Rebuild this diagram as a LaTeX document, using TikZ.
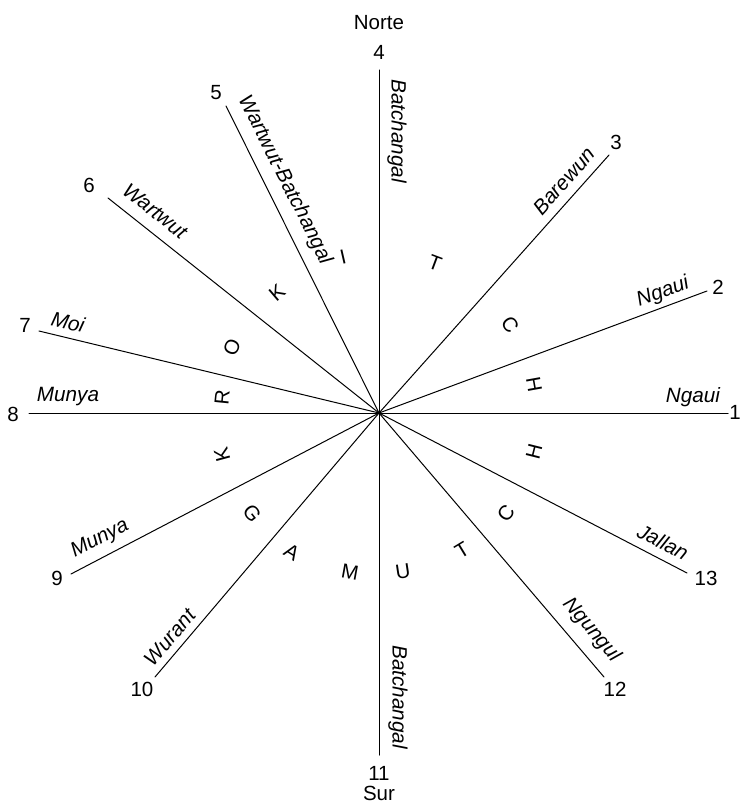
\documentclass[tikz,border=0pt]{standalone}
\usepackage{fontspec}
\setmainfont{Liberation Sans}
\begin{document}
\begin{tikzpicture}[x=1pt,y=-1pt,
  ray/.style={line width=1pt, line cap=round},
  num/.style={font=\fontsize{20.5}{24}\selectfont, inner sep=0pt},
  lab/.style={font=\fontsize{20.7}{24}\selectfont\itshape, inner sep=0pt},
  moi/.style={font=\fontsize{20.5}{24}\selectfont, inner sep=0pt}]
\useasboundingbox (0,0) rectangle (741,805);
% centre and ray ends
\coordinate (c) at (379,413);
\coordinate (e1) at (728,413);
\coordinate (e2) at (707,291);
\coordinate (e3) at (609,155);
\coordinate (e4) at (379,70);
\coordinate (e5) at (226,106);
\coordinate (e6) at (108,198);
\coordinate (e7) at (39,331);
\coordinate (e8) at (29,413);
\coordinate (e9) at (71,574);
\coordinate (e10) at (155,677);
\coordinate (e11) at (379,755);
\coordinate (e12) at (604,677);
\coordinate (e13) at (687,573);
\foreach \i in {1,...,13} \draw[ray] (c) -- (e\i);
% numbers
\node[num] (n1) at (735,412) {1};
\node[num] (n2) at (718,287) {2};
\node[num] (n3) at (616,142) {3};
\node[num] (n4) at (379,52) {4};
\node[num] (n5) at (216,93) {5};
\node[num] (n6) at (89,185) {6};
\node[num] (n7) at (25,325) {7};
\node[num] (n8) at (13,414) {8};
\node[num] (n9) at (57,578) {9};
\node[num] (n10) at (142,689) {10};
\node[num] (n11) at (379,773) {11};
\node[num] (n12) at (615,689) {12};
\node[num] (n13) at (706,578) {13};
\node[num] (norte) at (379,23) {Norte};
\node[num] (sur) at (379,793) {Sur};
% line labels
\node[lab, rotate=-90] (l4) at (397,131) {Batchangal};
\node[lab, rotate=-63.4] (l5) at (285,180) {Wartwut-Batchangal};
\node[lab, rotate=-38.3] (l6) at (155,211) {Wartwut};
\node[lab, rotate=-13.4] (l7) at (68,322) {Moi};
\node[lab] (l8) at (68,397) {Munya};
\node[lab, rotate=27.7] (l9) at (100,539) {Munya};
\node[lab, rotate=49.8] (l10) at (170,637) {Wurant};
\node[lab, rotate=-90] (l11) at (398,697) {Batchangal};
\node[lab, rotate=-49.7] (l12) at (592,630) {Ngungul};
\node[lab, rotate=-27.6] (l13) at (663,542) {Jallan};
\node[lab] (l1) at (693,397) {Ngaui};
\node[lab, rotate=20.2] (l2) at (663,292) {Ngaui};
\node[lab, rotate=48.2] (l3) at (564,181) {Barewun};
% moiety letters: KROKITCH
\node[moi, rotate=105] (k1) at (222,455) {K};
\node[moi, rotate=84.2] (k2) at (222,397) {R};
\node[moi, rotate=65.8] (k3) at (232,347) {O};
\node[moi, rotate=40.4] (k4) at (277,293) {K};
\node[moi, rotate=13] (k5) at (343,257) {I};
\node[moi, rotate=-20.5] (k6) at (435,263) {T};
\node[moi, rotate=-56.1] (k7) at (510,325) {C};
\node[moi, rotate=-79.8] (k8) at (534,385) {H};
% GAMUTCH
\node[moi, rotate=-51.8] (g1) at (252,513) {G};
\node[moi, rotate=-32] (g2) at (292,552) {A};
\node[moi, rotate=-10.3] (g3) at (350,572) {M};
\node[moi, rotate=8.6] (g4) at (403,572) {U};
\node[moi, rotate=31.2] (g5) at (462,550) {T};
\node[moi, rotate=51.8] (g6) at (506,513) {C};
\node[moi, rotate=75.9] (g7) at (534,452) {H};
\end{tikzpicture}
\end{document}
